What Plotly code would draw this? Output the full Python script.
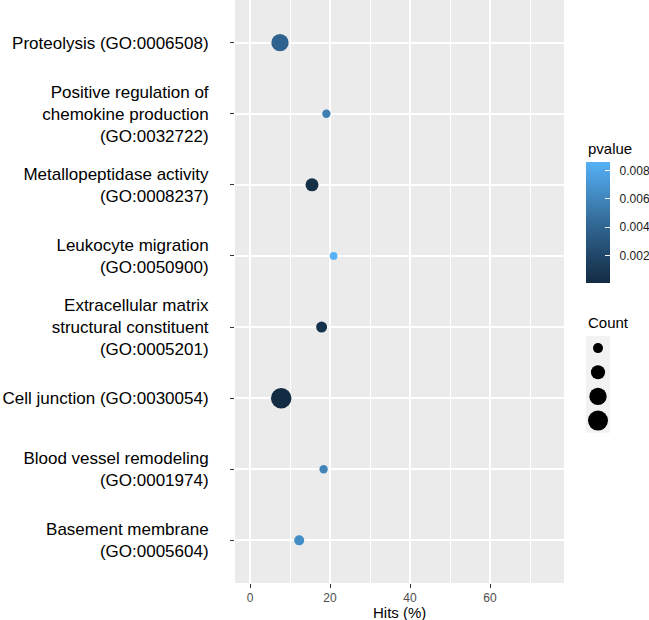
import plotly.graph_objects as go
import numpy as np

# ---------------- data ----------------
terms = [
    "Proteolysis (GO:0006508)",
    "Positive regulation of<br>chemokine production<br>(GO:0032722)",
    "Metallopeptidase activity<br>(GO:0008237)",
    "Leukocyte migration<br>(GO:0050900)",
    "Extracellular matrix<br>structural constituent<br>(GO:0005201)",
    "Cell junction (GO:0030054)",
    "Blood vessel remodeling<br>(GO:0001974)",
    "Basement membrane<br>(GO:0005604)",
]
hits = [7.5, 19.1, 15.5, 20.9, 17.9, 7.8, 18.4, 12.3]
counts = [30, 7, 17, 6, 12, 42, 7, 10]
pvalues = [0.0039, 0.0055, 0.0003, 0.0086, 0.0005, 0.00002, 0.0059, 0.0065]

x_ticks = [0, 20, 40, 60]
pval_ticks = [0.002, 0.004, 0.006, 0.008]
count_breaks = [10, 20, 30, 40]

# ---------------- colour scale (ggplot2 default gradient, Lab interpolation) ----------------
def hex_to_rgb(h):
    h = h.lstrip("#")
    return np.array([int(h[i:i + 2], 16) / 255 for i in (0, 2, 4)])

def srgb_to_lin(c):
    return np.where(c <= 0.04045, c / 12.92, ((c + 0.055) / 1.055) ** 2.4)

def lin_to_srgb(c):
    return np.where(c <= 0.0031308, 12.92 * c, 1.055 * np.power(np.clip(c, 0, None), 1 / 2.4) - 0.055)

M = np.array([[0.4124, 0.3576, 0.1805], [0.2126, 0.7152, 0.0722], [0.0193, 0.1192, 0.9505]])
Minv = np.linalg.inv(M)
WHITE = np.array([0.95047, 1.0, 1.08883])

def f(t):
    d = 6 / 29
    return np.where(t > d ** 3, np.cbrt(t), t / (3 * d * d) + 4 / 29)

def finv(t):
    d = 6 / 29
    return np.where(t > d, t ** 3, 3 * d * d * (t - 4 / 29))

def rgb_to_lab(rgb):
    xyz = M @ srgb_to_lin(rgb) / WHITE
    fx, fy, fz = f(xyz)
    return np.array([116 * fy - 16, 500 * (fx - fy), 200 * (fy - fz)])

def lab_to_rgb(lab):
    L, a, b = lab
    fy = (L + 16) / 116
    fx = fy + a / 500
    fz = fy - b / 200
    xyz = np.array([finv(fx), finv(fy), finv(fz)]) * WHITE
    return np.clip(lin_to_srgb(Minv @ xyz), 0, 1)

lo, hi = rgb_to_lab(hex_to_rgb("#132B43")), rgb_to_lab(hex_to_rgb("#56B1F7"))
colorscale = []
for t in np.linspace(0, 1, 21):
    r, g, b = lab_to_rgb(lo + (hi - lo) * t)
    colorscale.append([float(t), "rgb(%d,%d,%d)" % (round(r * 255), round(g * 255), round(b * 255))])

# ---------------- figure geometry ----------------
W, H = 649, 620
px_l, px_r, px_t, px_b = 235, 564, 0, 583
SIZEREF = 0.2
FONT = "Liberation Sans, Arial, Helvetica, sans-serif"
NB = "\u00a0\u00a0"

fig = go.Figure()

fig.add_trace(go.Scatter(
    x=hits, y=terms, mode="markers",
    marker=dict(
        size=counts, sizemode="area", sizeref=SIZEREF, opacity=1,
        color=pvalues, colorscale=colorscale,
        cmin=min(pvalues), cmax=max(pvalues),
        line=dict(width=0),
        showscale=True,
        colorbar=dict(
            x=586 / W, xanchor="left", xpad=0,
            y=1 - 222.8 / H, yanchor="middle", ypad=0,
            len=121, lenmode="pixels", thickness=24,
            outlinewidth=0,
            tickvals=pval_ticks, ticktext=[NB + "%.3f" % v for v in pval_ticks],
            ticks="inside", ticklen=5, tickcolor="white", tickwidth=1,
            tickfont=dict(size=12, color="#1A1A1A", family=FONT),
        ),
    ),
    showlegend=False, hoverinfo="x+y",
))

# size legend keys
fig.add_trace(go.Scatter(
    x=["k"] * len(count_breaks), y=[str(c) for c in count_breaks],
    mode="markers", xaxis="x2", yaxis="y2",
    marker=dict(size=count_breaks, sizemode="area", sizeref=SIZEREF, opacity=1,
                color="black", line=dict(width=0)),
    showlegend=False, hoverinfo="skip",
))

fig.update_layout(
    template="none",
    width=W, height=H,
    margin=dict(l=0, r=0, t=0, b=0, autoexpand=False),
    paper_bgcolor="white", plot_bgcolor="rgba(0,0,0,0)",
    font=dict(family=FONT, color="black"),
    xaxis=dict(
        domain=[px_l / W, px_r / W], range=[-3.75, 78.5], automargin=False,
        tickvals=x_ticks, ticks="outside", ticklen=4, tickwidth=1.1, tickcolor="#333333",
        tickfont=dict(size=12, color="#4D4D4D"),
        showgrid=True, gridcolor="white", gridwidth=1.8,
        minor=dict(dtick=10, tick0=0, showgrid=True, gridcolor="white", gridwidth=0.9, ticks=""),
        zeroline=False, showline=False, fixedrange=True,
    ),
    yaxis=dict(
        domain=[1 - px_b / H, 1 - px_t / H], automargin=False,
        type="category", categoryorder="array", categoryarray=terms,
        range=[len(terms) - 0.4, -0.6],
        ticks="outside", ticklen=4, tickwidth=1.1, tickcolor="#333333",
        tickfont=dict(size=17, color="black"), ticklabelstandoff=18,
        showgrid=True, gridcolor="white", gridwidth=1.8,
        zeroline=False, showline=False, fixedrange=True,
    ),
    xaxis2=dict(domain=[586 / W, 610 / W], visible=False, fixedrange=True, automargin=False,
                type="category", range=[-0.5, 0.5]),
    yaxis2=dict(domain=[1 - 432.7 / H, 1 - 336 / H], visible=False, fixedrange=True, automargin=False,
                type="category", categoryorder="array", categoryarray=[str(c) for c in count_breaks],
                range=[len(count_breaks) - 0.5, -0.5]),
    shapes=[
        dict(type="rect", xref="x domain", yref="y domain", x0=0, x1=1, y0=0, y1=1,
             fillcolor="#EBEBEB", line=dict(width=0), layer="below"),
        dict(type="rect", xref="paper", yref="paper", x0=586 / W, x1=610 / W,
             y0=1 - 432.7 / H, y1=1 - 336 / H, fillcolor="#F2F2F2", line=dict(width=0), layer="below"),
    ],
    annotations=[
        dict(text="Hits (%)", xref="paper", yref="paper", x=(px_l + px_r) / 2 / W, y=1 - 612.5 / H,
             xanchor="center", yanchor="middle", showarrow=False, font=dict(size=15, color="black")),
        dict(text="pvalue", xref="paper", yref="paper", x=586 / W, y=1 - 148.3 / H,
             xanchor="left", yanchor="middle", showarrow=False, font=dict(size=15, color="black")),
        dict(text="Count", xref="paper", yref="paper", x=586 / W, y=1 - 322.3 / H,
             xanchor="left", yanchor="middle", showarrow=False, font=dict(size=15, color="black")),
    ] + [
        dict(text=str(c), xref="paper", yref="y2", x=616 / W, y=str(c),
             xanchor="left", yanchor="middle", showarrow=False, font=dict(size=12, color="#1A1A1A"))
        for c in count_breaks
    ],
)

fig.write_html(
    "out.html",
    config={"displayModeBar": False},
    post_script="document.body.style.margin='0';document.body.style.padding='0';",
)
